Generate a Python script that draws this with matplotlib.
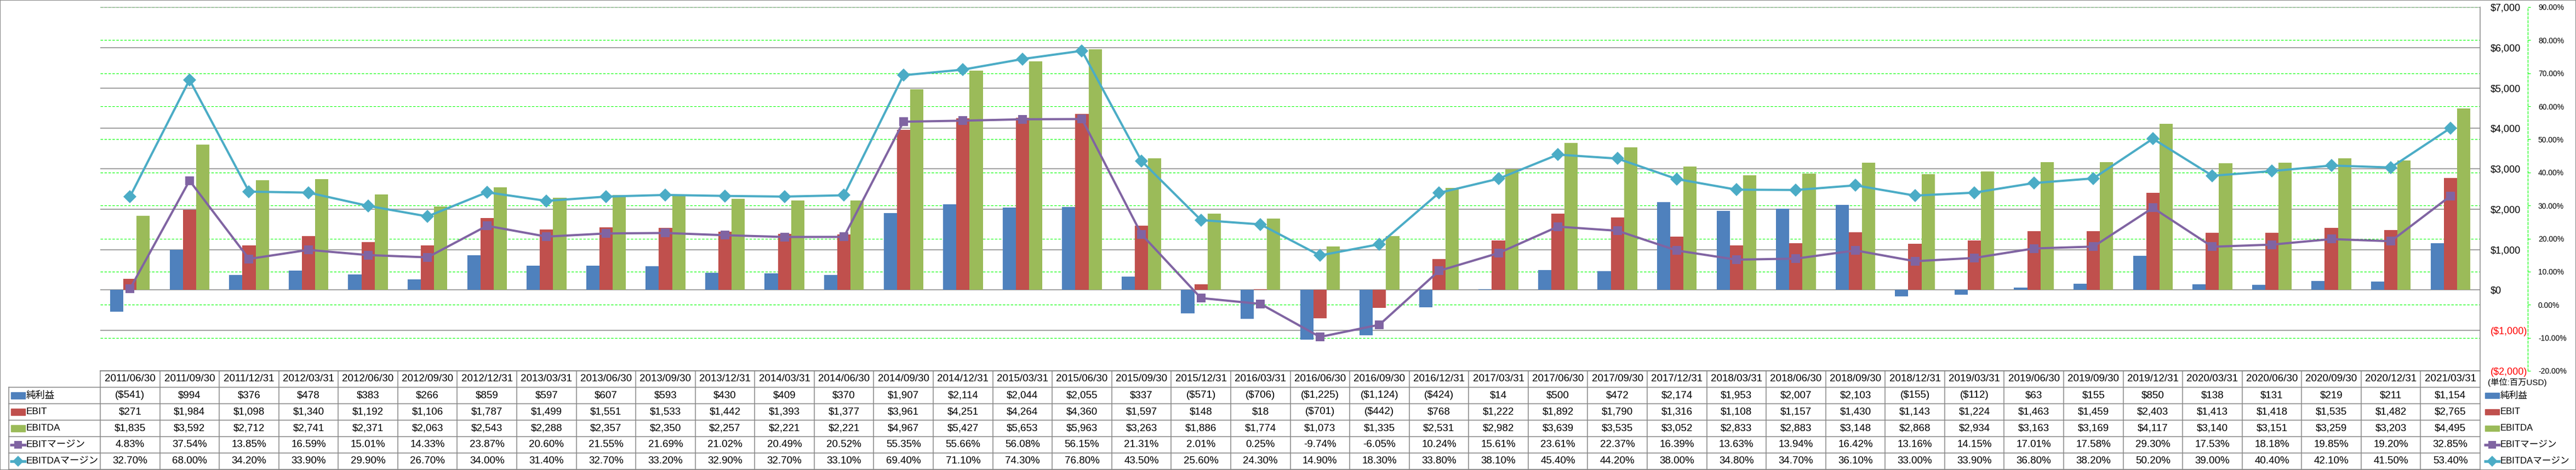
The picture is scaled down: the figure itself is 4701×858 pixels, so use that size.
import matplotlib
matplotlib.use('Agg')
import matplotlib.pyplot as plt
import numpy as np
from matplotlib.patches import Rectangle
from matplotlib import transforms

# === DATA ===
dates = ['2011/06/30', '2011/09/30', '2011/12/31', '2012/03/31', '2012/06/30', '2012/09/30',
         '2012/12/31', '2013/03/31', '2013/06/30', '2013/09/30', '2013/12/31', '2014/03/31',
         '2014/06/30', '2014/09/30', '2014/12/31', '2015/03/31', '2015/06/30', '2015/09/30',
         '2015/12/31', '2016/03/31', '2016/06/30', '2016/09/30', '2016/12/31', '2017/03/31',
         '2017/06/30', '2017/09/30', '2017/12/31', '2018/03/31', '2018/06/30', '2018/09/30',
         '2018/12/31', '2019/03/31', '2019/06/30', '2019/09/30', '2019/12/31', '2020/03/31',
         '2020/06/30', '2020/09/30', '2020/12/31', '2021/03/31']
net_income = [-541, 994, 376, 478, 383, 266, 859, 597, 607, 593, 430, 409, 370, 1907, 2114,
              2044, 2055, 337, -571, -706, -1225, -1124, -424, 14, 500, 472, 2174, 1953, 2007,
              2103, -155, -112, 63, 155, 850, 138, 131, 219, 211, 1154]
ebit = [271, 1984, 1098, 1340, 1192, 1106, 1787, 1499, 1551, 1533, 1442, 1393, 1377, 3961, 4251,
        4264, 4360, 1597, 148, 18, -701, -442, 768, 1222, 1892, 1790, 1316, 1108, 1157, 1430,
        1143, 1224, 1463, 1459, 2403, 1413, 1418, 1535, 1482, 2765]
ebitda = [1835, 3592, 2712, 2741, 2371, 2063, 2543, 2288, 2357, 2350, 2257, 2221, 2221, 4967,
          5427, 5653, 5963, 3263, 1886, 1774, 1073, 1335, 2531, 2982, 3639, 3535, 3052, 2833,
          2883, 3148, 2868, 2934, 3163, 3169, 4117, 3140, 3151, 3259, 3203, 4495]
ebit_margin = [4.83, 37.54, 13.85, 16.59, 15.01, 14.33, 23.87, 20.60, 21.55, 21.69, 21.02, 20.49,
               20.52, 55.35, 55.66, 56.08, 56.15, 21.31, 2.01, 0.25, -9.74, -6.05, 10.24, 15.61,
               23.61, 22.37, 16.39, 13.63, 13.94, 16.42, 13.16, 14.15, 17.01, 17.58, 29.30, 17.53,
               18.18, 19.85, 19.20, 32.85]
ebitda_margin = [32.70, 68.00, 34.20, 33.90, 29.90, 26.70, 34.00, 31.40, 32.70, 33.20, 32.90,
                 32.70, 33.10, 69.40, 71.10, 74.30, 76.80, 43.50, 25.60, 24.30, 14.90, 18.30,
                 33.80, 38.10, 45.40, 44.20, 38.00, 34.80, 34.70, 36.10, 33.00, 33.90, 36.80,
                 38.20, 50.20, 39.00, 40.40, 42.10, 41.50, 53.40]

names = ['純利益', 'EBIT', 'EBITDA', 'EBITマージン', 'EBITDAマージン']
colors = ['#4F81BD', '#C0504D', '#9BBB59', '#8064A2', '#4BACC6']
unit_label = '(単位:百万USD)'

usd_ticks = np.arange(-2000, 7001, 1000)
pct_ticks = np.arange(-20, 91, 10)

# === LAYOUT (pixels) ===
W, H = 4701, 858
PL, PR, PT, PB, TB = 183, 4526, 13, 677, 857
GRAY = '#868686'
GREEN = '#00FF00'

plt.rcParams['font.family'] = ['Liberation Sans', 'Noto Sans CJK JP', 'DejaVu Sans']
fig = plt.figure(figsize=(W / 100, H / 100), dpi=100)


def box(l, t, r, b):
    return [l / W, 1 - b / H, (r - l) / W, (b - t) / H]


def fmt_usd(v):
    return f'(${-v:,.0f})' if v < 0 else f'${v:,.0f}'


n = len(dates)
x = np.arange(n)

# green secondary gridlines sit behind everything
grid_ax = fig.add_axes(box(PL, PT, PR, PB))
grid_ax.set_xlim(-0.5, n - 0.5)
grid_ax.set_ylim(pct_ticks[0], pct_ticks[-1])
grid_ax.set_yticks(pct_ticks)
grid_ax.set_xticks([])
grid_ax.yaxis.grid(True, color=GREEN, lw=0.8, ls=(0, (4, 2.5)))
grid_ax.tick_params(left=False, labelleft=False)
for s in grid_ax.spines.values():
    s.set_visible(False)

# bars on primary axis
ax = fig.add_axes(box(PL, PT, PR, PB))
ax.patch.set_visible(False)
bw = 1 / 4.5
for k, vals in enumerate([net_income, ebit, ebitda]):
    ax.bar(x + (k - 1) * bw, vals, width=bw, color=colors[k], zorder=2)
ax.set_xlim(-0.5, n - 0.5)
ax.set_ylim(usd_ticks[0], usd_ticks[-1])
ax.set_xticks([])
ax.yaxis.grid(True, color=GRAY, lw=1.1)
ax.set_axisbelow(True)

# margin lines on secondary axis
ax2 = ax.twinx()
ax2.plot(x, ebit_margin, color=colors[3], lw=2.9, marker='s', ms=12, mew=0)
ax2.plot(x, ebitda_margin, color=colors[4], lw=2.9, marker='D', ms=12, mew=0)
ax2.set_ylim(pct_ticks[0], pct_ticks[-1])
ax2.set_xlim(-0.5, n - 0.5)

ax.yaxis.tick_right()
ax.set_yticks(usd_ticks)
ax.set_yticklabels([fmt_usd(v) for v in usd_ticks], fontsize=13)
ax.tick_params(axis='y', length=0, pad=13.7)
for lbl, v in zip(ax.get_yticklabels(), usd_ticks):
    lbl.set_color('red' if v < 0 else 'black')
for side in ['left', 'top']:
    ax.spines[side].set_visible(False)
ax.spines['right'].set_color(GRAY)
ax.spines['right'].set_linewidth(1.1)
ax.spines['bottom'].set_color(GRAY)
ax.spines['bottom'].set_linewidth(1.1)

ax2.set_yticks(pct_ticks)
ax2.set_yticklabels([f'{v:.2f}%' for v in pct_ticks], fontsize=13)
ax2.tick_params(axis='y', direction='out', length=3.6, width=0.8, color=GREEN, pad=10)
for lbl, v in zip(ax2.get_yticklabels(), pct_ticks):
    lbl.set_color('red' if v < 0 else 'black')
for side in ['left', 'top', 'bottom']:
    ax2.spines[side].set_visible(False)
ax2.spines['right'].set_position(('outward', 87 * 0.72))
ax2.spines['right'].set_color(GREEN)
ax2.spines['right'].set_linestyle((0, (4, 2.5)))
ax2.spines['right'].set_linewidth(0.8)

# === DATA TABLE ===
tab = fig.add_axes(box(PL, PB, PR, TB))
tab.set_xlim(-0.5, n - 0.5)
tab.set_ylim(6, 0)
tab.axis('off')
col_w = (PR - PL) / n
lab_left = -0.5 - (PL - 16) / col_w

tab.plot([-0.5, n - 0.5], [0, 0], color=GRAY, lw=1.1, clip_on=False)
for r in range(1, 7):
    tab.plot([lab_left, n - 0.5], [r, r], color=GRAY, lw=1.1, clip_on=False)
for k in range(n + 1):
    tab.plot([k - 0.5, k - 0.5], [0, 6], color=GRAY, lw=1.1, clip_on=False)
tab.plot([lab_left, lab_left], [1, 6], color=GRAY, lw=1.1, clip_on=False)

rows = [[fmt_usd(v) for v in net_income],
        [fmt_usd(v) for v in ebit],
        [fmt_usd(v) for v in ebitda],
        [f'{v:.2f}%' for v in ebit_margin],
        [f'{v:.2f}%' for v in ebitda_margin]]

for i in range(n):
    tab.text(i, 0.5, dates[i], ha='center', va='center', fontsize=13.5)
    for r, row in enumerate(rows):
        tab.text(i, r + 1.5, row[i], ha='center', va='center', fontsize=13.5)

blend = transforms.blended_transform_factory(fig.transFigure, tab.transData)


def legend_key(px, r, k, h):
    if k < 3:
        tab.add_patch(Rectangle((px / W, r - h / 2), 26 / W, h, transform=blend,
                                color=colors[k], clip_on=False))
    else:
        tab.plot([(px - 2) / W, (px + 28) / W], [r, r], transform=blend, color=colors[k],
                 lw=3.5, clip_on=False, solid_capstyle='butt')
        tab.plot([(px + 13) / W], [r], transform=blend, color=colors[k],
                 marker='s' if k == 3 else 'D', ms=10, mew=0, clip_on=False)


for k, name in enumerate(names):
    r = k + 1.5
    legend_key(20, r, k, 0.43)
    tab.text(48 / W, r, name, transform=blend, ha='left', va='center', fontsize=12.5)
    legend_key(4535, r, k, 0.31)
    tab.text(4563 / W, r, name, transform=blend, ha='left', va='center', fontsize=12)

tab.text(4540 / W, 0.7, unit_label, transform=blend, ha='left', va='center', fontsize=11)

fig.add_artist(Rectangle((0, 0), 1, 1, transform=fig.transFigure, fill=False,
                         edgecolor=GRAY, lw=1.5))

fig.savefig('out.png', dpi=100)
